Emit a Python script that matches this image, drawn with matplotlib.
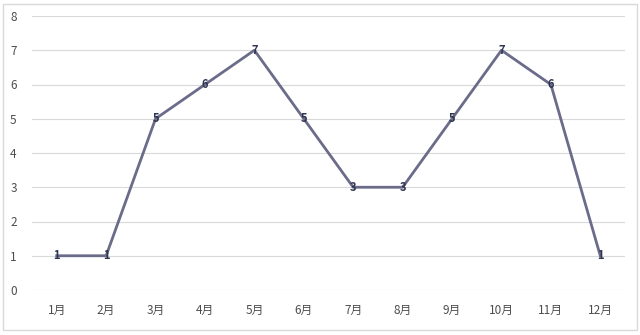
import matplotlib.pyplot as plt
from matplotlib.patches import Rectangle

plt.rcParams['font.family'] = ['Noto Sans CJK SC', 'DejaVu Sans']

months = ['1月', '2月', '3月', '4月', '5月', '6月', '7月', '8月', '9月', '10月', '11月', '12月']
values = [1, 1, 5, 6, 7, 5, 3, 3, 5, 7, 6, 1]
y_ticks = [0, 1, 2, 3, 4, 5, 6, 7, 8]

fig = plt.figure(figsize=(6.4, 3.35), dpi=100)
fig.patches.append(Rectangle((3 / 640, 5 / 335), 634 / 640, 326 / 335, transform=fig.transFigure,
                             fill=False, edgecolor='#d9d9d9', linewidth=1))
ax = fig.add_axes([32 / 640, 1 - 290 / 335, 593 / 640, 274 / 335])

x = list(range(len(months)))
ax.plot(x, values, color='#6b6b8a', linewidth=2, zorder=3)
for xi, v in zip(x, values):
    ax.text(xi, v, str(v), ha='center', va='center', fontsize=8, fontweight='bold',
            color='#2e3550', zorder=4)

ax.set_xlim(-0.5, len(months) - 0.5)
ax.set_ylim(0, 8)
ax.set_yticks(y_ticks)
ax.set_xticks(x)
ax.set_xticklabels(months)
ax.tick_params(axis='both', length=0, labelsize=8.5, colors='#4d4d4d')
ax.tick_params(axis='x', pad=10)
ax.tick_params(axis='y', pad=11)
ax.grid(axis='y', color='#d9d9d9', linewidth=0.8)
ax.set_axisbelow(True)
for s in ax.spines.values():
    s.set_visible(False)

fig.savefig('out.png', dpi=100)
